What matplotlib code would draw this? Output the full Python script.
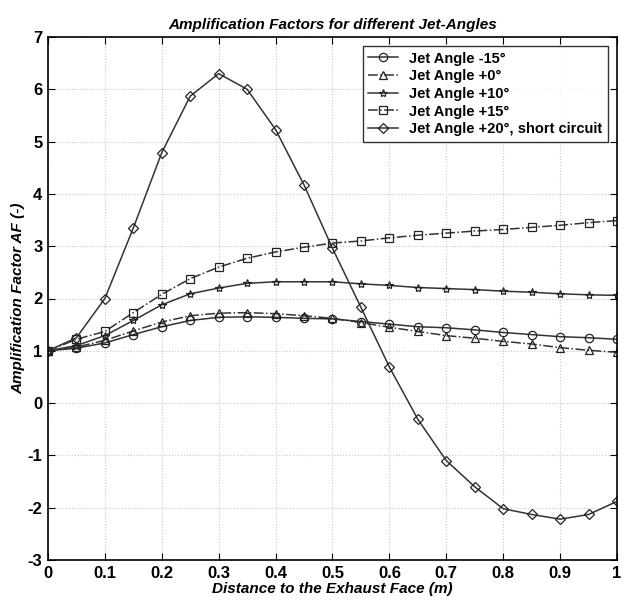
import numpy as np
import matplotlib
matplotlib.use('Agg')
import matplotlib.pyplot as plt

# 데이터: 배기면으로부터의 거리 (m)
distance = [0.0, 0.05, 0.1, 0.15, 0.2, 0.25, 0.3, 0.35, 0.4, 0.45, 0.5,
            0.55, 0.6, 0.65, 0.7, 0.75, 0.8, 0.85, 0.9, 0.95, 1.0]

af_minus15 = [1.0, 1.05, 1.15, 1.31, 1.46, 1.58, 1.64, 1.65, 1.64, 1.62, 1.61,
              1.56, 1.51, 1.46, 1.44, 1.40, 1.35, 1.31, 1.27, 1.25, 1.22]
af_plus0 = [1.0, 1.07, 1.20, 1.38, 1.55, 1.67, 1.72, 1.73, 1.71, 1.67, 1.62,
            1.54, 1.45, 1.37, 1.29, 1.24, 1.18, 1.13, 1.06, 1.01, 0.97]
af_plus10 = [1.0, 1.10, 1.29, 1.58, 1.88, 2.09, 2.20, 2.29, 2.32, 2.32, 2.32,
             2.28, 2.25, 2.21, 2.19, 2.17, 2.14, 2.12, 2.09, 2.07, 2.06]
af_plus15 = [1.0, 1.22, 1.37, 1.73, 2.08, 2.38, 2.60, 2.77, 2.89, 2.98, 3.06,
             3.10, 3.16, 3.21, 3.25, 3.29, 3.32, 3.36, 3.40, 3.45, 3.49]
af_plus20 = [1.0, 1.25, 2.00, 3.35, 4.79, 5.87, 6.30, 6.00, 5.23, 4.17, 2.96,
             1.83, 0.69, -0.31, -1.10, -1.60, -2.02, -2.13, -2.22, -2.13, -1.88]

labels = ['Jet Angle -15°', 'Jet Angle +0°', 'Jet Angle +10°',
          'Jet Angle +15°', 'Jet Angle +20°, short circuit']

plt.rcParams['font.family'] = ['Liberation Sans', 'DejaVu Sans']
plt.rcParams['axes.unicode_minus'] = False

fig = plt.figure(figsize=(6.28, 6.0), dpi=100)
ax = fig.add_axes([0.0764, 0.0667, 0.9061, 0.8716])

# 각 곡선 그리기
styles = [
    (af_minus15, 'o', '-'),
    (af_plus0, '^', '-.'),
    (af_plus10, '*', '-'),
    (af_plus15, 's', '-.'),
    (af_plus20, 'D', '-'),
]
for (vals, mk, ls), lab in zip(styles, labels):
    ms = 5 if mk == 'D' else 6
    ax.plot(distance, vals, color='#333333', linestyle=ls, linewidth=1.1,
            marker=mk, markersize=ms, markerfacecolor='none',
            markeredgecolor='#222222', markeredgewidth=0.9, label=lab)

ax.set_xlim(0, 1)
ax.set_ylim(-3, 7)
ax.set_xticks(np.arange(0, 1.01, 0.1))
ax.set_xticklabels(['0', '0.1', '0.2', '0.3', '0.4', '0.5', '0.6', '0.7', '0.8', '0.9', '1'])
ax.set_yticks(range(-3, 8))

ax.grid(True, linestyle=':', color='#c8c8c8', linewidth=0.8)
ax.tick_params(direction='in', top=True, right=True, length=5, labelsize=12, pad=4)
for t in ax.get_xticklabels() + ax.get_yticklabels():
    t.set_fontweight('bold')
for s in ax.spines.values():
    s.set_linewidth(1.2)

ax.set_title('Amplification Factors for different Jet-Angles', fontsize=11,
             fontweight='bold', style='italic', pad=6)
ax.set_xlabel('Distance to the Exhaust Face (m)', fontsize=11, style='italic',
              fontweight='bold', labelpad=1)
ax.set_ylabel('Amplification Factor AF (-)', fontsize=11, style='italic',
              fontweight='bold', labelpad=2)

leg = ax.legend(loc='upper right', fontsize=10.5, frameon=True, fancybox=False,
                edgecolor='black', borderaxespad=0.6, handlelength=2.0,
                labelspacing=0.25, borderpad=0.4)
leg.get_frame().set_linewidth(1.0)
for t in leg.get_texts():
    t.set_fontweight('bold')

fig.savefig('out.png', dpi=100)
